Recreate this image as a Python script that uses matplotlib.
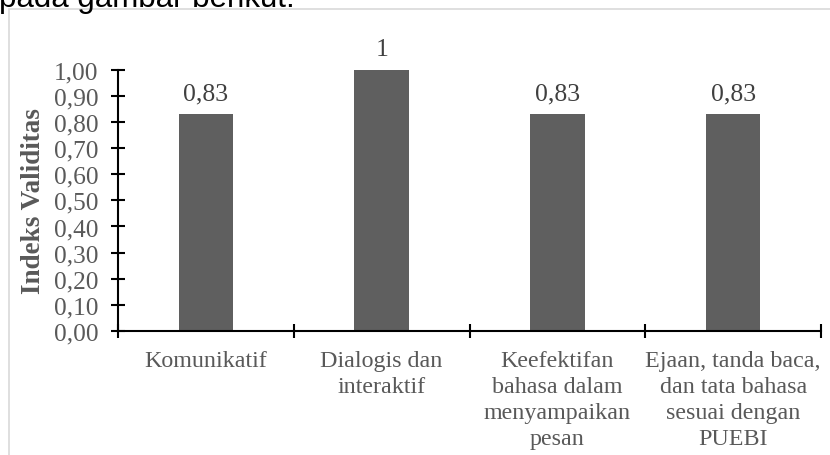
import matplotlib
matplotlib.use("Agg")
import matplotlib.pyplot as plt
from matplotlib.patches import Rectangle
import numpy as np

categories = ["Komunikatif", "Dialogis dan\ninteraktif",
              "Keefektifan\nbahasa dalam\nmenyampaikan\npesan",
              "Ejaan, tanda baca,\ndan tata bahasa\nsesuai dengan\nPUEBI"]
values = [0.83, 1.0, 0.83, 0.83]
value_labels = ["0,83", "1", "0,83", "0,83"]
yticks = [0.0, 0.1, 0.2, 0.3, 0.4, 0.5, 0.6, 0.7, 0.8, 0.9, 1.0]
ytick_labels = ["0,00", "0,10", "0,20", "0,30", "0,40", "0,50",
                "0,60", "0,70", "0,80", "0,90", "1,00"]

W, H = 830, 456
fig = plt.figure(figsize=(W / 100, H / 100), dpi=100)
fig.patch.set_facecolor("white")

# outer frame (chart area border)
fig.patches.append(Rectangle((9 / W, -0.1), 1.2, 1 - 10 / H + 0.1,
                             transform=fig.transFigure, fill=False,
                             edgecolor="#d9d9d9", linewidth=1.2))
# cropped text above the chart
fig.text(-1 / W, 1 - 7 / H, "pada gambar berikut.", family="Liberation Sans",
         fontsize=22.5, color="black", ha="left", va="baseline")

ax = fig.add_axes([118 / W, 1 - 332 / H, (821 - 118) / W, (332 - 70.7) / H])
x = np.arange(len(categories))
ax.bar(x, values, width=0.31, color="#5f5f5f", zorder=2)
ax.set_xlim(-0.5, len(categories) - 0.5)
ax.set_ylim(0, 1.0)

serif = "Liberation Serif"
gray = "#595959"
for xi, v, lab in zip(x, values, value_labels):
    ax.annotate(lab, (xi, v), xytext=(0, 7), textcoords="offset points",
                ha="center", va="bottom", family=serif, fontsize=18.5, color="#404040")

ax.set_yticks(yticks)
ax.set_yticklabels(ytick_labels, family=serif, fontsize=18.3, color=gray)
ax.tick_params(axis="y", direction="inout", length=10, width=1.5, pad=9, color="black")

ax.set_xticks(np.arange(-0.5, len(categories), 1.0))
ax.set_xticklabels([])
ax.tick_params(axis="x", which="major", direction="inout", length=10, width=1.5, color="black")
ax.set_xticks(x, minor=True)
ax.set_xticklabels(categories, minor=True, family=serif, fontsize=17.3, color=gray,
                   linespacing=1.32)
ax.tick_params(axis="x", which="minor", length=0, pad=13.5)

for s in ["top", "right"]:
    ax.spines[s].set_visible(False)
for s in ["left", "bottom"]:
    ax.spines[s].set_linewidth(1.5)
    ax.spines[s].set_color("black")

ax.set_ylabel("Indeks Validitas", family=serif, fontsize=19.5, fontweight="bold",
              color=gray)
ax.yaxis.set_label_coords(-0.103, 0.5)

fig.savefig("out.png", dpi=100)
